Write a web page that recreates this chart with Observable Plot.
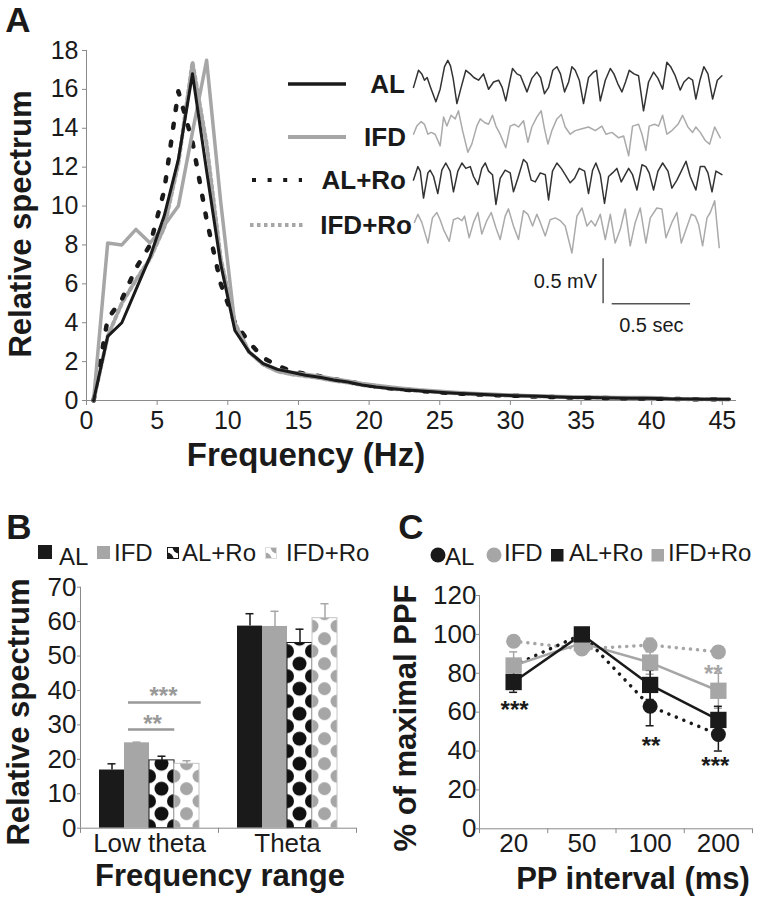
<!DOCTYPE html>
<html><head><meta charset="utf-8">
<script src="https://cdn.jsdelivr.net/npm/d3@7"></script>
<script src="https://cdn.jsdelivr.net/npm/@observablehq/plot@0.6"></script>
<style>
body{margin:0;background:#fff;}
#fig{position:relative;width:757px;height:900px;overflow:hidden;background:#fff;font-family:"Liberation Sans",Arial,sans-serif;color:#1a1a1a;}
.t{position:absolute;white-space:nowrap;line-height:1.2;}
</style></head><body><div id="fig"></div>
<script>
const FONT = '"Liberation Sans", Arial, sans-serif';
const BLACK = "#1a1a1a", GRAY = "#a6a6a6", AXIS = "#8a8a8a";

// ---------- Panel A: relative spectrum ----------
const freqHz = [0.5,1.5,2.5,3.5,4.5,5.5,6.5,7.5,8.5,9.5,10.5,11.5,12.5,13.5,14.5,15.5,16.5,17.5,18.5,19.5,20.5,21.5,22.5,23.5,24.5,25.5,26.5,27.5,28.5,29.5,30.5,31.5,32.5,33.5,34.5,35.5,36.5,37.5,38.5,39.5,40.5,41.5,42.5,43.5,44.5,45.5];
const specAL   = [0,3.3,4.0,5.7,7.4,9.5,12.4,16.8,11.8,7.0,3.6,2.5,1.9,1.6,1.45,1.3,1.2,1.05,0.95,0.8,0.7,0.62,0.55,0.5,0.45,0.4,0.36,0.33,0.3,0.27,0.25,0.23,0.2,0.18,0.16,0.15,0.14,0.13,0.12,0.12,0.1,0.08,0.08,0.07,0.07,0.06];
const specIFD  = [0,8.1,8.0,8.8,8.1,9.0,10.0,13.8,17.5,10.2,3.9,2.5,1.9,1.6,1.45,1.35,1.25,1.12,1.0,0.88,0.78,0.7,0.62,0.55,0.5,0.45,0.4,0.36,0.33,0.3,0.27,0.25,0.23,0.21,0.19,0.18,0.17,0.16,0.15,0.15,0.14,0.08,0.07,0.07,0.06,0.06];
const specALRo = [0,4.2,5.2,6.8,8.0,10.8,15.9,13.3,9.3,6.0,4.0,3.0,2.2,1.8,1.5,1.37,1.25,1.1,0.97,0.85,0.72,0.63,0.56,0.5,0.45,0.4,0.35,0.32,0.29,0.26,0.24,0.21,0.19,0.17,0.15,0.14,0.13,0.12,0.11,0.1,0.09,0.08,0.07,0.07,0.06,0.06];
const specIFDRo= [0,3.3,5.0,6.2,7.3,8.9,12.2,17.4,13.2,7.3,4.0,2.5,1.85,1.5,1.35,1.25,1.15,1.02,0.92,0.8,0.7,0.62,0.55,0.5,0.45,0.4,0.36,0.32,0.29,0.26,0.24,0.22,0.2,0.18,0.16,0.15,0.14,0.13,0.12,0.11,0.1,0.08,0.07,0.06,0.06,0.05];
const freqTicks = [0,5,10,15,20,25,30,35,40,45];
const specTicks = [0,2,4,6,8,10,12,14,16,18];
const seriesNames = ["AL","IFD","AL+Ro","IFD+Ro"];

// Inset traces: [time ms, mV]
const traceAL = [[0,-0.04],[32,0.15],[53,0.11],[70,0.04],[87,0.07],[109,-0.04],[143,-0.2],[170,-0.06],[198,0.19],[219,0.26],[236,0.2],[253,0.06],[277,-0.22],[304,-0.04],[334,0.15],[362,0.11],[385,0.07],[415,0.04],[447,0.11],[479,-0.06],[511,0.02],[543,0.04],[566,-0.04],[589,-0.19],[611,0],[632,0.17],[660,0.11],[683,0.09],[724,-0.09],[755,0.06],[787,0.13],[811,0.07],[836,-0.11],[862,-0.04],[889,0.15],[915,0.19],[938,0.11],[964,-0.09],[990,0.02],[1011,0.19],[1032,0.15],[1058,0.04],[1085,-0.22],[1117,0.07],[1149,0.13],[1168,0.15],[1192,-0.19],[1224,0.04],[1256,0.17],[1279,0.11],[1304,0],[1330,-0.09],[1353,0.02],[1377,0.15],[1407,0.11],[1436,0.09],[1468,-0.3],[1500,0.02],[1532,0.13],[1560,0.06],[1590,-0.06],[1617,0.24],[1641,0.19],[1670,0.09],[1702,-0.07],[1726,0.02],[1756,0.07],[1781,0.04],[1802,-0.17],[1828,0.04],[1853,0.19],[1879,0.11],[1909,-0.17],[1939,0.04],[1968,0.09]];
const traceIFD = [[0,-0.02],[21,0.07],[49,0.12],[70,0.09],[92,-0.02],[113,0],[138,-0.02],[170,-0.15],[192,0.17],[213,0.07],[240,0.19],[266,0.15],[287,0.24],[313,0.02],[347,-0.22],[372,-0.13],[404,0.07],[426,0.15],[453,0.11],[479,0.09],[504,0.19],[526,0.07],[553,-0.02],[589,-0.17],[617,0.07],[645,0.09],[670,0.06],[702,0.13],[730,-0.11],[755,0.06],[787,0.17],[815,0.24],[836,0.04],[858,-0.13],[883,0.02],[915,0.15],[943,0.2],[968,0.06],[1000,-0.02],[1032,0.02],[1075,0.04],[1117,0.06],[1160,0.02],[1202,0.07],[1228,-0.02],[1266,0],[1309,-0.06],[1341,-0.04],[1373,-0.26],[1398,0.07],[1436,0.09],[1458,-0.02],[1483,-0.2],[1504,0.07],[1539,0.09],[1564,0.07],[1590,0.19],[1617,-0.02],[1649,0.02],[1688,0.09],[1717,0.19],[1751,0.06],[1781,0],[1802,0.06],[1830,0],[1862,-0.09],[1890,-0.13],[1922,0.06],[1958,-0.06]];
const traceALRo = [[0,-0.04],[28,0.11],[43,0.06],[64,-0.24],[92,0.04],[106,0.07],[128,0],[155,-0.19],[181,0.07],[206,0.15],[234,0.06],[255,-0.17],[283,0.06],[309,0.15],[334,0.09],[362,0.11],[383,0],[411,-0.09],[436,0.09],[458,0.15],[479,0.06],[504,0.02],[526,-0.31],[553,-0.02],[585,0.07],[617,0.04],[638,-0.17],[666,-0.02],[702,0.19],[724,0.15],[751,-0.04],[777,-0.06],[809,0.04],[841,0.02],[862,-0.26],[887,0.06],[915,0.15],[943,0.09],[968,0.02],[1000,-0.07],[1028,-0.02],[1058,0.09],[1092,0.06],[1117,-0.19],[1143,0.07],[1164,0.15],[1192,0.02],[1219,-0.3],[1245,0],[1270,0.04],[1298,0.09],[1326,-0.06],[1351,0.02],[1373,0.09],[1398,0.02],[1426,-0.15],[1458,0.13],[1483,0.11],[1504,0.04],[1532,-0.15],[1560,0.06],[1590,0.15],[1624,0.06],[1649,-0.13],[1681,-0.04],[1709,0.06],[1739,0.17],[1766,0],[1802,-0.15],[1830,0.11],[1858,0.11],[1879,0.04],[1905,-0.17],[1930,0.06],[1968,0.02]];
const traceIFDRo = [[6,0.04],[28,0.13],[53,0.04],[92,-0.19],[121,0.09],[149,0.15],[170,0.07],[192,-0.04],[228,-0.17],[255,0.07],[283,0.09],[309,0.06],[326,0.11],[355,-0.13],[383,0.04],[411,0.15],[436,-0.09],[468,0.06],[496,0.15],[526,-0.02],[553,-0.15],[585,0.11],[606,0.19],[638,0],[670,-0.15],[702,0.17],[730,0.13],[760,0],[787,0.13],[809,0.04],[841,-0.11],[872,0.07],[904,0.09],[936,0.06],[968,0],[1011,-0.3],[1043,0.11],[1075,0.2],[1107,0],[1134,0.06],[1160,0],[1192,0.13],[1224,-0.15],[1256,0.13],[1287,-0.19],[1319,-0.04],[1351,0.19],[1383,-0.22],[1415,0.04],[1447,0.2],[1483,-0.19],[1511,0.09],[1553,0.2],[1585,0.19],[1611,-0.13],[1649,0.04],[1681,0.15],[1709,-0.19],[1739,-0.04],[1773,0.13],[1798,0.11],[1819,0.02],[1845,-0.22],[1873,0.09],[1894,0.15],[1922,0.28],[1951,-0.24]];
const traceOffsetMV = [0, -0.54, -1.03, -1.58];
const scaleBarMV = 0.5, scaleBarSec = 0.5;

// ---------- Panel B: bars ----------
const bRanges = ["Low theta","Theta"];
const bAL    = [16.9, 58.7], bAL_err    = [1.8, 3.6];
const bIFD   = [24.8, 58.6], bIFD_err   = [0.2, 4.4];
const bALRo  = [19.7, 53.8], bALRo_err  = [1.2, 4.0];
const bIFDRo = [18.7, 61.0], bIFDRo_err = [0.9, 4.2];
const bTicks = [0,10,20,30,40,50,60,70];

// ---------- Panel C: PPF ----------
const ppIntervals = ["20","50","100","200"];
const cAL    = [84, 100, 63, 48.5],  cAL_err    = [3, 0, 10, 8.5];
const cIFD   = [96.5, 92.5, 94.5, 91], cIFD_err = [2, 0, 3.5, 1.5];
const cALRo  = [75.5, 100, 74, 56],  cALRo_err  = [5.3, 0, 7.5, 7];
const cIFDRo = [84, 95.5, 85.5, 71], cIFDRo_err = [7, 0, 6, 9];
const cTicks = [0,20,40,60,80,100,120];

const fig = document.getElementById("fig");
function place(el, left, top) {
  el.style.position = "absolute"; el.style.left = left + "px"; el.style.top = top + "px";
  el.style.maxWidth = "none";
  fig.appendChild(el); return el;
}
function label(str, x, y, {size = 26, weight = "normal", anchor = "middle", rotate = 0, color = BLACK} = {}) {
  const d = document.createElement("div");
  d.className = "t"; d.textContent = str;
  d.style.fontSize = size + "px"; d.style.fontWeight = weight; d.style.color = color;
  d.style.left = x + "px"; d.style.top = y + "px";
  const tx = anchor === "middle" ? "-50%" : anchor === "end" ? "-100%" : "0";
  d.style.transform = `translate(${tx},-50%)` + (rotate ? ` rotate(${rotate}deg)` : "");
  fig.appendChild(d); return d;
}
const baseStyle = (fs) => ({fontFamily: FONT, fontSize: fs, background: "transparent", overflow: "visible", color: BLACK});

// ===== Panel A plot =====
const specVals = [specAL, specIFD, specALRo, specIFDRo];
const aData = seriesNames.map((s, si) => freqHz.map((f, i) => ({series: s, f, v: specVals[si][i]})));
const plotA = Plot.plot({
  width: 757, height: 480, marginLeft: 86, marginRight: 21, marginTop: 50, marginBottom: 80,
  x: {domain: [0, 46]}, y: {domain: [0, 18]},
  style: baseStyle("25px"),
  marks: [
    Plot.ruleY([0], {stroke: AXIS}),
    Plot.ruleX([0], {stroke: AXIS}),
    Plot.axisX({ticks: freqTicks, tickSize: 5, tickPadding: 6, stroke: AXIS, label: null, tickFormat: d => d}),
    Plot.axisY({ticks: specTicks, tickSize: 4, tickPadding: 4, stroke: AXIS, label: null, tickFormat: d => d}),
    Plot.line(aData[3], {x: "f", y: "v", stroke: GRAY, strokeWidth: 4, strokeDasharray: "3.5,3"}),
    Plot.line(aData[2], {x: "f", y: "v", stroke: BLACK, strokeWidth: 4.5, strokeDasharray: "4,14"}),
    Plot.line(aData[1], {x: "f", y: "v", stroke: GRAY, strokeWidth: 3.5, strokeLinejoin: "round"}),
    Plot.line(aData[0], {x: "f", y: "v", stroke: BLACK, strokeWidth: 3, strokeLinejoin: "round"})
  ]
});
place(plotA, 0, 0);

// ===== Inset traces (own scales) =====
const traces = [traceAL, traceIFD, traceALRo, traceIFDRo];
const traceColor = ["#333333", "#aaaaaa", "#333333", "#aaaaaa"];
const barT = 1210, barV = -2.444, hStart = 1268;
const inset = Plot.plot({
  width: 757, height: 360, margin: 0,
  x: {domain: [0, 2000], range: [413, 726.4], axis: null},
  y: {domain: [-3, 0.6], range: [353.3, 29.3], axis: null},
  style: baseStyle("20px"),
  marks: [
    ...traces.map((tr, k) => Plot.line(tr, {x: d => d[0], y: d => d[1] + traceOffsetMV[k], stroke: traceColor[k], strokeWidth: 1.5, strokeLinejoin: "round"})),
    Plot.ruleX([barT], {y1: barV, y2: barV + scaleBarMV, stroke: "#555", strokeWidth: 1.5}),
    Plot.ruleY([barV], {x1: hStart, x2: hStart + scaleBarSec * 1000, stroke: "#555", strokeWidth: 1.5}),
    Plot.text([`${scaleBarMV} mV`], {x: barT, y: barV + scaleBarMV / 2, dx: -6, textAnchor: "end", fontSize: 20, fill: BLACK}),
    Plot.text([`${scaleBarSec} sec`], {x: hStart + scaleBarSec * 500, y: barV - 0.16, lineAnchor: "top", fontSize: 20, fill: BLACK})
  ]
});
place(inset, 0, 0);

// Legend A
{
  const svg = d3.create("svg").attr("width", 757).attr("height", 260).style("font-family", FONT);
  const items = [
    {x1: 288, x2: 346, y: 84, stroke: BLACK, w: 3.5, dash: null, tx: 405, name: seriesNames[0]},
    {x1: 288, x2: 346, y: 137, stroke: GRAY, w: 4, dash: null, tx: 406, name: seriesNames[1]},
    {x1: 252, x2: 302, y: 180, stroke: BLACK, w: 4, dash: "4,11.6", tx: 406, name: seriesNames[2]},
    {x1: 250, x2: 306, y: 225, stroke: GRAY, w: 4, dash: "3.5,3.5", tx: 412, name: seriesNames[3]}
  ];
  for (const it of items) {
    svg.append("line").attr("x1", it.x1).attr("x2", it.x2).attr("y1", it.y).attr("y2", it.y)
      .attr("stroke", it.stroke).attr("stroke-width", it.w).attr("stroke-dasharray", it.dash);
    svg.append("text").attr("x", it.tx).attr("y", it.y).attr("dy", "0.36em").attr("text-anchor", "end")
      .attr("font-size", 26).attr("font-weight", "bold").attr("fill", BLACK).text(it.name);
  }
  place(svg.node(), 0, 0);
}
label("A", 18, 20, {size: 35, weight: "bold"});
label("Relative spectrum", 21, 224, {size: 31, weight: "bold", rotate: -90});
label("Frequency (Hz)", 306, 455, {size: 33, weight: "bold"});

// ===== Panel B =====
const bVals = [bAL, bIFD, bALRo, bIFDRo], bErrs = [bAL_err, bIFD_err, bALRo_err, bIFDRo_err];
const bFill = [BLACK, GRAY, "#010101", "#020202"];
const bStroke = [null, null, BLACK, "#c4c4c4"];
const bErrColor = [BLACK, GRAY, BLACK, GRAY];
const WB = 380, mlB = 80, mrB = 24, bwB = (WB - mlB - mrB) / 2, outer = 19, barW = 25;
const bMarks = [];
seriesNames.forEach((s, si) => {
  const rows = bRanges.map((g, gi) => ({range: g, value: bVals[si][gi], err: bErrs[si][gi]}));
  const dx = outer + barW * si + barW / 2 - bwB / 2;
  bMarks.push(Plot.barY(rows, {x: "range", y: "value", fill: bFill[si], stroke: bStroke[si], strokeWidth: 1,
    insetLeft: outer + barW * si, insetRight: bwB - outer - barW * (si + 1)}));
  bMarks.push(Plot.ruleX(rows, {x: "range", y1: "value", y2: d => d.value + d.err, dx, stroke: bErrColor[si], strokeWidth: 1.5}));
  bMarks.push(Plot.tickY(rows, {x: "range", y: d => d.value + d.err, dx, insetLeft: (bwB - 8) / 2, insetRight: (bwB - 8) / 2, stroke: bErrColor[si], strokeWidth: 1.5}));
});
const plotB = Plot.plot({
  width: WB, height: 400, marginLeft: mlB, marginRight: mrB, marginTop: 86.7, marginBottom: 72.3,
  x: {domain: bRanges, padding: 0, round: false}, y: {domain: [0, 70]},
  style: baseStyle("26px"),
  marks: [
    ...bMarks,
    Plot.ruleY([0], {stroke: AXIS}),
    Plot.ruleX([bRanges[0]], {x: d => d, dx: -bwB / 2, y1: 0, y2: 70, stroke: AXIS}),
    Plot.ruleX(bRanges, {x: d => d, dx: -bwB / 2, y1: 0, y2: -1.5, stroke: AXIS}),
    Plot.ruleX([bRanges[1]], {x: d => d, dx: bwB / 2, y1: 0, y2: -1.5, stroke: AXIS}),
    Plot.axisX({tickSize: 0, tickPadding: 5, label: null}),
    Plot.axisY({ticks: bTicks, tickSize: 3, tickPadding: 1, stroke: AXIS, label: null, tickFormat: d => d}),
    // significance (IFD vs IFD+Ro, IFD vs AL+Ro)
    Plot.ruleY([36.5], {insetLeft: 48, insetRight: 155.3, stroke: "#999", strokeWidth: 2.5}),
    Plot.ruleY([28.7], {insetLeft: 48, insetRight: 181.7, stroke: "#999", strokeWidth: 2.5}),
    Plot.text(["***"], {x: () => bRanges[0], y: 38.3, dx: 14, fontSize: 24, fontWeight: "bold", fill: "#999"}),
    Plot.text(["**"], {x: () => bRanges[0], y: 30.1, dx: 3, fontSize: 24, fontWeight: "bold", fill: "#999"})
  ]
});
// pattern fills for +Ro bars
{
  const root = d3.select(plotB);
  const defs = root.insert("defs", ":first-child");
  let k = 0;
  for (const [col, dot, r] of [["#010101", "#111", 7], ["#020202", GRAY, 6.5]]) {
    root.selectAll(`g[fill="${col}"] rect`).each(function () {
      const el = d3.select(this);
      const x = +el.attr("x"), y = +el.attr("y"), w = +el.attr("width"), h = +el.attr("height");
      const id = "bpat" + (k++);
      const p = defs.append("pattern").attr("id", id).attr("patternUnits", "userSpaceOnUse")
        .attr("x", x).attr("y", y + h - 26.5).attr("width", w).attr("height", w);
      p.append("rect").attr("width", w).attr("height", w).attr("fill", "#fff");
      for (const [cx, cy] of [[w / 2, w / 2], [0, 0], [w, 0], [0, w], [w, w]])
        p.append("circle").attr("cx", cx).attr("cy", cy).attr("r", r).attr("fill", dot);
      el.attr("fill", `url(#${id})`);
    });
  }
}
place(plotB, 0, 500);
label("B", 19, 527, {size: 35, weight: "bold"});
label("Relative spectrum", 19, 712, {size: 31, weight: "bold", rotate: -90});
label("Frequency range", 220, 876, {size: 31, weight: "bold"});

// Legend B
{
  const sq = (x, y, s, fill) => { const d = document.createElement("div"); d.style.width = s + "px"; d.style.height = s + "px"; d.style.background = fill; place(d, x, y); };
  sq(38, 545, 14, BLACK); sq(97, 546, 13, GRAY);
  const pat = (x, y, dot, border) => {
    const s = d3.create("svg").attr("width", 12).attr("height", 12);
    const cid = "clip" + x;
    s.append("clipPath").attr("id", cid).append("rect").attr("width", 12).attr("height", 12);
    const g = s.append("g").attr("clip-path", `url(#${cid})`);
    g.append("rect").attr("width", 12).attr("height", 12).attr("fill", "#fff");
    g.append("circle").attr("cx", 12).attr("cy", 0).attr("r", 6.5).attr("fill", dot);
    g.append("circle").attr("cx", 0).attr("cy", 12).attr("r", 6.5).attr("fill", dot);
    s.append("rect").attr("x", 0.5).attr("y", 0.5).attr("width", 11).attr("height", 11).attr("fill", "none").attr("stroke", border);
    place(s.node(), x, y);
  };
  pat(167, 547, BLACK, BLACK); pat(265, 547, GRAY, "#ddd");
  label(seriesNames[0], 59, 557, {size: 24, anchor: "start"});
  label(seriesNames[1], 114, 553, {size: 24, anchor: "start"});
  label(seriesNames[2], 182, 553, {size: 24, anchor: "start"});
  label(seriesNames[3], 286, 553, {size: 24, anchor: "start"});
}

// ===== Panel C =====
const WC = 377, mlC = 99, mrC = 5, bwC = (WC - mlC - mrC) / 4;
const cVals = [cAL, cIFD, cALRo, cIFDRo], cErrs = [cAL_err, cIFD_err, cALRo_err, cIFDRo_err];
const cRows = cVals.map((vals, si) => ppIntervals.map((p, i) => ({pp: p, value: vals[i], err: cErrs[si][i]})));
const cColor = [BLACK, GRAY, BLACK, GRAY];
const cDash = ["0.1,8", "0.1,7", null, null];
const cSym = ["circle", "circle", "square", "square"];
const cR = [7.5, 7.5, 9.2, 9.2];
const capInset = (bwC - 8) / 2;
const order = [1, 0, 3, 2];
const plotC = Plot.plot({
  width: WC, height: 400, marginLeft: mlC, marginRight: mrC, marginTop: 95, marginBottom: 71.7,
  x: {domain: ppIntervals, padding: 0, round: false}, y: {domain: [0, 120]},
  style: baseStyle("26px"),
  marks: [
    Plot.ruleY([0], {stroke: AXIS}),
    Plot.ruleX([ppIntervals[0]], {x: d => d, dx: -bwC / 2, y1: 0, y2: 120, stroke: AXIS}),
    Plot.ruleX(ppIntervals, {x: d => d, dx: -bwC / 2, y1: 0, y2: -2.5, stroke: AXIS}),
    Plot.ruleX([ppIntervals[3]], {x: d => d, dx: bwC / 2, y1: 0, y2: -2.5, stroke: AXIS}),
    Plot.axisX({tickSize: 0, tickPadding: 5, label: null}),
    Plot.axisY({ticks: cTicks, tickSize: 3, tickPadding: 0, stroke: AXIS, label: null, tickFormat: d => d}),
    ...order.map(si => Plot.line(cRows[si], {x: "pp", y: "value", stroke: cColor[si],
      strokeWidth: si < 2 ? 3.5 : 2.5, strokeDasharray: cDash[si], strokeLinecap: si < 2 ? "round" : "butt"})),
    ...order.flatMap(si => {
      const rows = cRows[si].filter(d => d.err > 0);
      return [
        Plot.ruleX(rows, {x: "pp", y1: d => d.value - d.err, y2: d => d.value + d.err, stroke: cColor[si], strokeWidth: 1.5}),
        Plot.tickY(rows, {x: "pp", y: d => d.value + d.err, insetLeft: capInset, insetRight: capInset, stroke: cColor[si], strokeWidth: 1.5}),
        Plot.tickY(rows, {x: "pp", y: d => d.value - d.err, insetLeft: capInset, insetRight: capInset, stroke: cColor[si], strokeWidth: 1.5})
      ];
    }),
    ...order.map(si => Plot.dot(cRows[si], {x: "pp", y: "value", symbol: cSym[si], r: cR[si], fill: cColor[si], stroke: null})),
    Plot.text(["***"], {x: () => ppIntervals[0], y: 61.2, dx: 1, fontSize: 24, fontWeight: "bold", fill: BLACK}),
    Plot.text(["**"], {x: () => ppIntervals[2], y: 42.3, dx: 1, fontSize: 24, fontWeight: "bold", fill: BLACK}),
    Plot.text(["***"], {x: () => ppIntervals[3], y: 32, dx: -3, fontSize: 24, fontWeight: "bold", fill: BLACK}),
    Plot.text(["**"], {x: () => ppIntervals[3], y: 79.4, dx: -5, fontSize: 24, fontWeight: "bold", fill: GRAY})
  ]
});
place(plotC, 380, 500);
label("C", 411, 527, {size: 35, weight: "bold"});
label("% of maximal PPF", 406, 718, {size: 31, weight: "bold", rotate: -90});
label("PP interval (ms)", 633, 879, {size: 31, weight: "bold"});

// Legend C
{
  const s = d3.create("svg").attr("width", 757).attr("height", 30);
  s.append("circle").attr("cx", 438).attr("cy", 15).attr("r", 7.5).attr("fill", BLACK);
  s.append("circle").attr("cx", 494).attr("cy", 15).attr("r", 7.5).attr("fill", GRAY);
  s.append("rect").attr("x", 551).attr("y", 9).attr("width", 12.5).attr("height", 12.5).attr("fill", BLACK);
  s.append("rect").attr("x", 651.5).attr("y", 9).attr("width", 12.5).attr("height", 12.5).attr("fill", GRAY);
  place(s.node(), 0, 540);
  label(seriesNames[0], 445, 557, {size: 24, anchor: "start"});
  label(seriesNames[1], 504, 553, {size: 24, anchor: "start"});
  label(seriesNames[2], 569, 553, {size: 24, anchor: "start"});
  label(seriesNames[3], 668, 553, {size: 24, anchor: "start"});
}
</script></body></html>
